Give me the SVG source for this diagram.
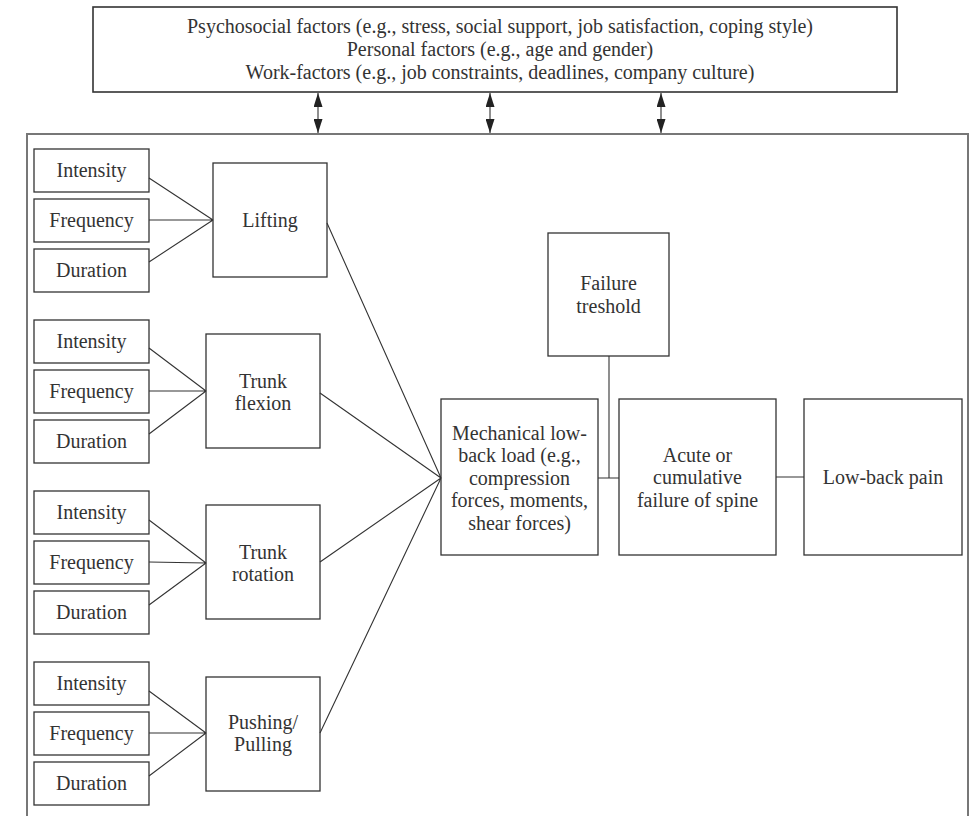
<svg xmlns="http://www.w3.org/2000/svg" width="973" height="816" viewBox="0 0 973 816">
<style>
.box{fill:#fff;stroke:#333;stroke-width:1.3}
.frame{fill:none;stroke:#777;stroke-width:2}
.t{font-family:"Liberation Serif","Times New Roman",serif;font-size:20px;fill:#333;text-anchor:middle}
.c{stroke:#333;stroke-width:1.1;fill:none}
</style>
<defs>
<marker id="ah" viewBox="0 0 10 10" refX="10" refY="5" markerWidth="14" markerHeight="9" markerUnits="userSpaceOnUse" orient="auto-start-reverse" preserveAspectRatio="none">
<path d="M0,0 L10,5 L0,10 Z" fill="#222"/>
</marker>
</defs>
<rect width="973" height="816" fill="#fff"/>
<g id="frame"><path class="frame" d="M27,817 V134 H968 V817"/></g>
<g id="top-factors">
<rect class="box" x="93" y="7" width="804" height="85" style="stroke-width:1.6"/>
<text class="t" x="500" y="33">Psychosocial factors (e.g., stress, social support, job satisfaction, coping style)</text>
<text class="t" x="500" y="56">Personal factors (e.g., age and gender)</text>
<text class="t" x="500" y="79">Work-factors (e.g., job constraints, deadlines, company culture)</text>
</g>
<g id="g1-intensity"><rect class="box" x="34" y="149" width="115" height="43"/><text class="t" x="91.5" y="177">Intensity</text></g>
<g id="g1-frequency"><rect class="box" x="34" y="199" width="115" height="43"/><text class="t" x="91.5" y="227">Frequency</text></g>
<g id="g1-duration"><rect class="box" x="34" y="249" width="115" height="43"/><text class="t" x="91.5" y="277">Duration</text></g>
<g id="lifting"><rect class="box" x="213" y="163" width="114" height="114"/><text class="t" x="270" y="227">Lifting</text></g>
<g id="g2-intensity"><rect class="box" x="34" y="320" width="115" height="43"/><text class="t" x="91.5" y="348">Intensity</text></g>
<g id="g2-frequency"><rect class="box" x="34" y="370" width="115" height="43"/><text class="t" x="91.5" y="398">Frequency</text></g>
<g id="g2-duration"><rect class="box" x="34" y="420" width="115" height="43"/><text class="t" x="91.5" y="448">Duration</text></g>
<g id="trunk-flexion"><rect class="box" x="206" y="334" width="114" height="114"/><text class="t" x="263" y="388">Trunk</text><text class="t" x="263" y="410">flexion</text></g>
<g id="g3-intensity"><rect class="box" x="34" y="491" width="115" height="43"/><text class="t" x="91.5" y="519">Intensity</text></g>
<g id="g3-frequency"><rect class="box" x="34" y="541" width="115" height="43"/><text class="t" x="91.5" y="569">Frequency</text></g>
<g id="g3-duration"><rect class="box" x="34" y="591" width="115" height="43"/><text class="t" x="91.5" y="619">Duration</text></g>
<g id="trunk-rotation"><rect class="box" x="206" y="505" width="114" height="114"/><text class="t" x="263" y="559">Trunk</text><text class="t" x="263" y="581">rotation</text></g>
<g id="g4-intensity"><rect class="box" x="34" y="662" width="115" height="43"/><text class="t" x="91.5" y="690">Intensity</text></g>
<g id="g4-frequency"><rect class="box" x="34" y="712" width="115" height="43"/><text class="t" x="91.5" y="740">Frequency</text></g>
<g id="g4-duration"><rect class="box" x="34" y="762" width="115" height="43"/><text class="t" x="91.5" y="790">Duration</text></g>
<g id="pushing-pulling"><rect class="box" x="206" y="677" width="114" height="114"/><text class="t" x="263" y="729">Pushing/</text><text class="t" x="263" y="751">Pulling</text></g>
<g id="failure-threshold"><rect class="box" x="548" y="233" width="121" height="123"/><text class="t" x="608.5" y="290">Failure</text><text class="t" x="608.5" y="313">treshold</text></g>
<g id="mechanical-load"><rect class="box" x="441" y="399" width="157" height="156"/>
<text class="t" x="519.5" y="440">Mechanical low-</text>
<text class="t" x="519.5" y="462">back load (e.g.,</text>
<text class="t" x="519.5" y="485">compression</text>
<text class="t" x="519.5" y="507">forces, moments,</text>
<text class="t" x="519.5" y="530">shear forces)</text>
</g>
<g id="acute-failure"><rect class="box" x="619" y="399" width="157" height="156"/>
<text class="t" x="697.5" y="462">Acute or</text>
<text class="t" x="697.5" y="484">cumulative</text>
<text class="t" x="697.5" y="507">failure of spine</text>
</g>
<g id="low-back-pain"><rect class="box" x="804" y="399" width="158" height="156"/><text class="t" x="883" y="484">Low-back pain</text></g>
<g id="connectors">
<line class="c" x1="318" y1="93" x2="318" y2="133" marker-start="url(#ah)" marker-end="url(#ah)"/>
<line class="c" x1="490" y1="93" x2="490" y2="133" marker-start="url(#ah)" marker-end="url(#ah)"/>
<line class="c" x1="661" y1="93" x2="661" y2="133" marker-start="url(#ah)" marker-end="url(#ah)"/>
<path class="c" d="M149,178 L213,220 M149,220 L213,220 M149,262 L213,220"/>
<path class="c" d="M149,348 L206,391 M149,391 L206,391 M149,434 L206,391"/>
<path class="c" d="M149,520 L206,563 M149,562 L206,563 M149,605 L206,563"/>
<path class="c" d="M149,691 L206,733 M149,733 L206,733 M149,776 L206,733"/>
<path class="c" d="M327,223 L441,478 M320,393 L441,478 M320,562 L441,478 M320,733 L441,478"/>
<path class="c" d="M598,478 H619 M609,356 V478 M776,477 H804"/>
</g>
</svg>
